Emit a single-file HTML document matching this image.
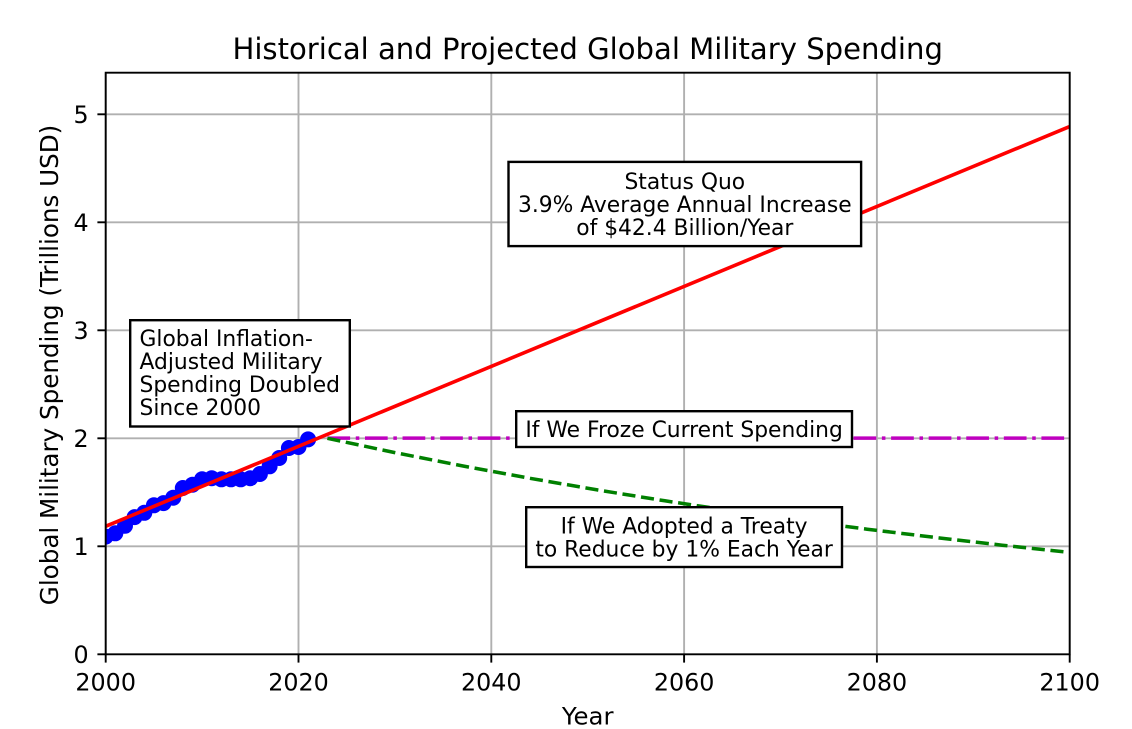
<!DOCTYPE html>
<html>
<head>
<meta charset="utf-8">
<style>
html,body{margin:0;padding:0;background:#fff;}
svg{display:block;}
text{font-family:"DejaVu Sans","Liberation Sans",sans-serif;fill:#000;}
</style>
</head>
<body>
<svg width="1132" height="729" viewBox="0 0 1132 729" xmlns="http://www.w3.org/2000/svg">
<defs>
<clipPath id="ax"><rect x="105.7" y="72.7" width="964" height="581.6"/></clipPath>
</defs>
<rect x="0" y="0" width="1132" height="729" fill="#fff"/>

<!-- grid -->
<g stroke="#b0b0b0" stroke-width="1.9" fill="none">
<line x1="105.7" y1="72.7" x2="105.7" y2="654.3"/>
<line x1="298.5" y1="72.7" x2="298.5" y2="654.3"/>
<line x1="491.3" y1="72.7" x2="491.3" y2="654.3"/>
<line x1="684.1" y1="72.7" x2="684.1" y2="654.3"/>
<line x1="876.9" y1="72.7" x2="876.9" y2="654.3"/>
<line x1="1069.7" y1="72.7" x2="1069.7" y2="654.3"/>
<line x1="105.7" y1="546.3" x2="1069.7" y2="546.3"/>
<line x1="105.7" y1="438.3" x2="1069.7" y2="438.3"/>
<line x1="105.7" y1="330.3" x2="1069.7" y2="330.3"/>
<line x1="105.7" y1="222.3" x2="1069.7" y2="222.3"/>
<line x1="105.7" y1="114.3" x2="1069.7" y2="114.3"/>
</g>

<g clip-path="url(#ax)">
<!-- historical data -->
<g fill="#0000ff">
<circle cx="105.7" cy="536.6" r="8"/>
<circle cx="115.3" cy="533.3" r="8"/>
<circle cx="125.0" cy="525.8" r="8"/>
<circle cx="134.6" cy="517.1" r="8"/>
<circle cx="144.3" cy="512.8" r="8"/>
<circle cx="153.9" cy="505.3" r="8"/>
<circle cx="163.5" cy="503.1" r="8"/>
<circle cx="173.2" cy="497.7" r="8"/>
<circle cx="182.8" cy="488.0" r="8"/>
<circle cx="192.5" cy="484.7" r="8"/>
<circle cx="202.1" cy="479.3" r="8"/>
<circle cx="211.7" cy="478.2" r="8"/>
<circle cx="221.4" cy="479.3" r="8"/>
<circle cx="231.0" cy="479.3" r="8"/>
<circle cx="240.7" cy="479.3" r="8"/>
<circle cx="250.3" cy="478.2" r="8"/>
<circle cx="259.9" cy="474.0" r="8"/>
<circle cx="269.6" cy="466.3" r="8"/>
<circle cx="279.2" cy="458.0" r="8"/>
<circle cx="288.9" cy="448.0" r="8"/>
<circle cx="298.5" cy="447.0" r="8"/>
<circle cx="308.1" cy="439.4" r="8"/>
</g>
<!-- status quo line -->
<line x1="105.7" y1="526.3" x2="1069.7" y2="126.5" stroke="#ff0000" stroke-width="3.6"/>
<!-- freeze line -->
<line x1="327.4" y1="438.1" x2="1069.7" y2="438.1" stroke="#bf00bf" stroke-width="3.54" stroke-dasharray="22.7 5.67 3.54 5.67"/>
<!-- treaty line -->
<polyline fill="none" stroke="#008000" stroke-width="3.54" stroke-dasharray="13.1 5.67"
points="327.4,438.3 394.9,452.6 462.4,465.9 529.9,478.3 597.3,489.9 664.8,500.8 732.3,510.9 799.7,520.4 867.2,529.2 934.7,537.4 1002.2,545.2 1069.7,552.4"/>
</g>

<!-- spines -->
<rect x="105.7" y="72.7" width="964" height="581.6" fill="none" stroke="#000" stroke-width="1.9"/>

<!-- ticks -->
<g stroke="#000" stroke-width="1.9">
<line x1="105.7" y1="654.3" x2="105.7" y2="662.6"/>
<line x1="298.5" y1="654.3" x2="298.5" y2="662.6"/>
<line x1="491.3" y1="654.3" x2="491.3" y2="662.6"/>
<line x1="684.1" y1="654.3" x2="684.1" y2="662.6"/>
<line x1="876.9" y1="654.3" x2="876.9" y2="662.6"/>
<line x1="1069.7" y1="654.3" x2="1069.7" y2="662.6"/>
<line x1="97.4" y1="654.3" x2="105.7" y2="654.3"/>
<line x1="97.4" y1="546.3" x2="105.7" y2="546.3"/>
<line x1="97.4" y1="438.3" x2="105.7" y2="438.3"/>
<line x1="97.4" y1="330.3" x2="105.7" y2="330.3"/>
<line x1="97.4" y1="222.3" x2="105.7" y2="222.3"/>
<line x1="97.4" y1="114.3" x2="105.7" y2="114.3"/>
</g>

<!-- tick labels -->
<g font-size="23.8" text-anchor="middle">
<text x="105.7" y="690.7">2000</text>
<text x="298.5" y="690.7">2020</text>
<text x="491.3" y="690.7">2040</text>
<text x="684.1" y="690.7">2060</text>
<text x="876.9" y="690.7">2080</text>
<text x="1069.7" y="690.7">2100</text>
</g>
<g font-size="23.8" text-anchor="end">
<text x="88.6" y="662.9">0</text>
<text x="88.6" y="554.9">1</text>
<text x="88.6" y="446.9">2</text>
<text x="88.6" y="338.9">3</text>
<text x="88.6" y="230.9">4</text>
<text x="88.6" y="122.9">5</text>
</g>

<!-- axis labels and title -->
<text x="587.7" y="724.5" font-size="24.4" text-anchor="middle">Year</text>
<text transform="translate(58,365) rotate(-90)" font-size="24.6" text-anchor="middle">Global Military Spending (Trillions USD)</text>
<text x="587.7" y="59" font-size="29.1" text-anchor="middle">Historical and Projected Global Military Spending</text>

<!-- annotation boxes -->
<g fill="#fff" stroke="#000" stroke-width="2.4">
<rect x="130.2" y="320.2" width="219.6" height="106.3"/>
<rect x="508.5" y="161.9" width="352.6" height="84.2"/>
<rect x="516.2" y="411.2" width="335.8" height="35.8"/>
<rect x="526.2" y="507.2" width="315.8" height="59.8"/>
</g>
<g font-size="21.8">
<text x="139.5" y="345.8">Global Inflation-</text>
<text x="139.5" y="368.8">Adjusted Military</text>
<text x="139.5" y="391.8">Spending Doubled</text>
<text x="139.5" y="414.8">Since 2000</text>
</g>
<g font-size="21.8" text-anchor="middle">
<text x="684.8" y="189">Status Quo</text>
<text x="684.8" y="212">3.9% Average Annual Increase</text>
<text x="684.8" y="235">of $42.4 Billion/Year</text>
<text x="684.1" y="437">If We Froze Current Spending</text>
<text x="684.1" y="533.5">If We Adopted a Treaty</text>
<text x="684.1" y="556.5">to Reduce by 1% Each Year</text>
</g>
</svg>
</body>
</html>
